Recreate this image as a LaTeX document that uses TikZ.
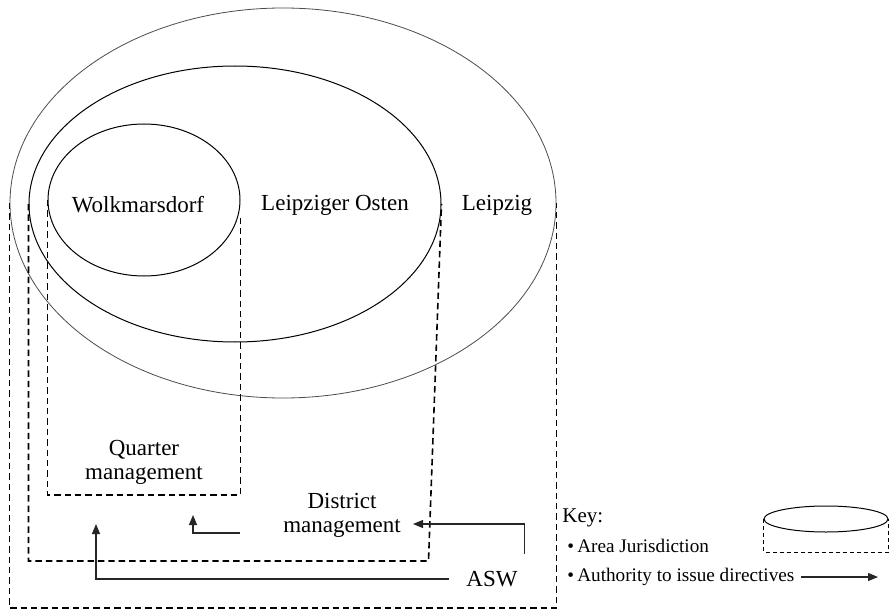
\documentclass[tikz,border=0pt]{standalone}
\usepackage{fontspec}
\setmainfont{Liberation Serif}
\usetikzlibrary{shapes.geometric,arrows.meta}

\begin{document}
\begin{tikzpicture}[x=0.5pt, y=-0.5pt, font=\fontsize{11.5}{12}\selectfont,
  area/.style={ellipse, draw, inner sep=0pt, line width=0.5pt},
  jur/.style={dash pattern=on 3.2pt off 2pt, line width=0.8pt},
  keyjur/.style={dash pattern=on 2pt off 1.5pt, line width=0.4pt},
  directive/.style={-{Triangle[length=5pt,width=4pt]}, line width=0.55pt, black!85},
  keytext/.style={anchor=west, inner sep=0pt, font=\fontsize{9.6}{11}\selectfont}]
  \useasboundingbox (0,0) rectangle (889,610);
  % --- areas ---
  \node[area, draw=black!70, line width=0.4pt, minimum width=273pt, minimum height=195pt] (leipzig) at (283,203) {};
  \node[area, minimum width=206pt, minimum height=138pt] (osten) at (235,204) {};
  \node[area, minimum width=96pt, minimum height=76pt] (wolk) at (144,200) {};
  \node (wolklabel) at (138,205) {Wolkmarsdorf};
  \node (ostenlabel) at (335,205) {Leipziger Osten};
  \node (leipziglabel) at (497,205) {Leipzig};
  % --- jurisdiction ---
  \draw[jur] (leipzig.west) -- ++(0,405) -| (leipzig.east);
  \draw[jur] (osten.west) -- ++(0,357) -- ++(400,0) -- (osten.east);
  \draw[jur] (wolk.west) -- ++(0,295) -| ([yshift=-9pt]wolk.east);
  % --- management bodies ---
  \node[align=center] (quarter) at (144,462) {Quarter\\management};
  \node[align=center] (district) at (342,515) {District\\management};
  \node (asw) at (492,579) {ASW};
  % --- directives ---
  \coordinate (qtip) at (96,524);
  \coordinate (dfrom) at (240,533);
  \coordinate (dto) at (193,515);
  \coordinate (dtip) at (413,524);
  \draw[directive, shorten <=5pt] (asw.west) -| (qtip);
  \draw[directive] (dfrom) -| (dto);
  \draw[directive, shorten <=5pt] (asw.north east) |- (dtip);
  % --- key ---
  \node[anchor=west, inner sep=0pt, font=\fontsize{10.5}{12}\selectfont] (key) at (562,518) {Key:};
  \node[keytext] (keyarea) at (567,546) {\textbullet\,Area Jurisdiction};
  \node[keytext] (keydir) at (567,577) {\textbullet\,Authority to issue directives};
  \coordinate (keyend) at (878,577);
  \draw[directive] ([xshift=3pt]keydir.east) -- (keyend);
  \node[area, minimum width=62pt, minimum height=13pt] (keyell) at (826,519) {};
  \draw[keyjur] (keyell.west) -- ++(0,33) -| (keyell.east);
\end{tikzpicture}
\end{document}
